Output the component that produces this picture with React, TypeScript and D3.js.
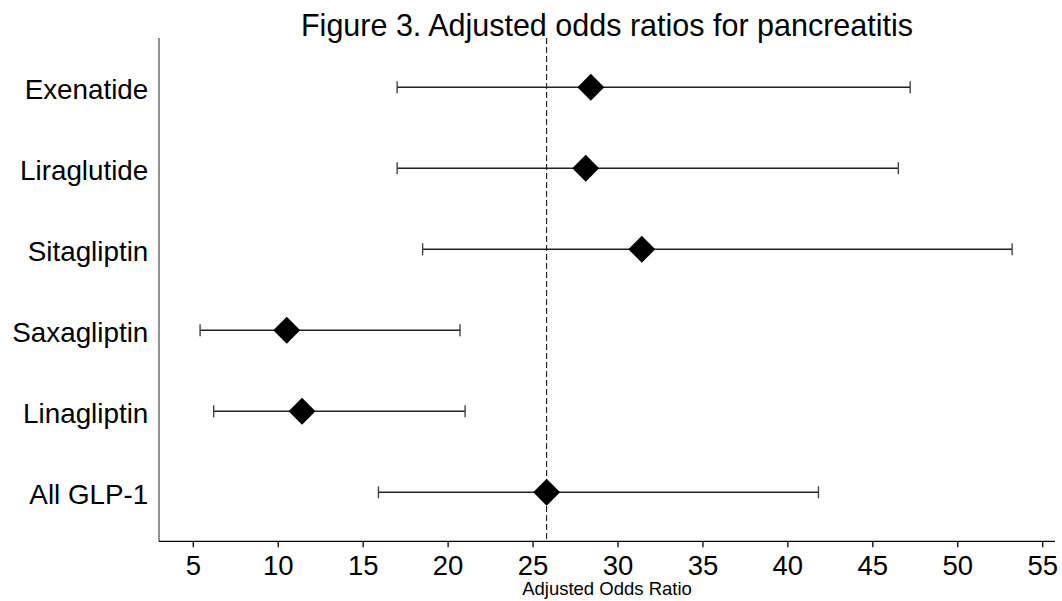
import React from "react";
import * as d3 from "d3";

const categories = ["Exenatide", "Liraglutide", "Sitagliptin", "Saxagliptin", "Linagliptin", "All GLP-1"];
const oddsRatios = [28.4, 28.1, 31.4, 10.5, 11.4, 25.8];
const lowerCI = [17.0, 17.0, 18.5, 5.4, 6.2, 15.9];
const upperCI = [47.2, 46.5, 53.2, 20.7, 21.0, 41.8];
const referenceValue = 25.8;
const xTicks = [5, 10, 15, 20, 25, 30, 35, 40, 45, 50, 55];
const titleText = "Figure 3. Adjusted odds ratios for pancreatitis";
const xAxisLabel = "Adjusted Odds Ratio";

const W = 1062;
const H = 601;
const plotLeft = 159;
const plotRight = 1055;
const plotTop = 38;
const plotBottom = 541.3;

export default function App() {
  const x = d3.scaleLinear().domain([5, 55]).range([193.3, 1042.7]);
  const y = d3.scalePoint<string>().domain(categories).range([87.3, 492.3]);
  const font = "Arial, 'Liberation Sans', Helvetica, sans-serif";
  const diamond = d3.symbol().type(d3.symbolSquare).size(19 * 19)();
  const capH = 6;

  return (
    <svg
      width={W}
      height={H}
      style={{ position: "absolute", left: 0, top: 0, display: "block", background: "#fff" }}
      fontFamily={font}
    >
      <rect x={0} y={0} width={W} height={H} fill="#fff" />
      {/* title */}
      <text x={607} y={36} textAnchor="middle" fontSize={30.5} fill="#000">
        {titleText}
      </text>
      {/* y axis */}
      <line x1={plotLeft} x2={plotLeft} y1={plotTop} y2={plotBottom} stroke="#555" strokeWidth={1.3} />
      {/* x axis */}
      <line x1={plotLeft} x2={plotRight} y1={plotBottom} y2={plotBottom} stroke="#000" strokeWidth={1.3} />
      {xTicks.map((t) => (
        <g key={t}>
          <line x1={x(t)} x2={x(t)} y1={plotBottom} y2={plotBottom + 6} stroke="#000" strokeWidth={1.3} />
          <text x={x(t)} y={575} textAnchor="middle" fontSize={27.5} fill="#000">
            {t}
          </text>
        </g>
      ))}
      <text x={(plotLeft + plotRight) / 2} y={595} textAnchor="middle" fontSize={18.5} fill="#000">
        {xAxisLabel}
      </text>
      {/* reference dashed line */}
      <line
        x1={x(referenceValue)}
        x2={x(referenceValue)}
        y1={plotTop}
        y2={plotBottom}
        stroke="#000"
        strokeWidth={1}
        strokeDasharray="6,3"
      />
      {/* category labels */}
      {categories.map((c) => (
        <text key={c} x={148.3} y={(y(c) as number) + 12} textAnchor="end" fontSize={27.8} fill="#000">
          {c}
        </text>
      ))}
      {/* error bars */}
      {categories.map((c, i) => {
        const cy = y(c) as number;
        return (
          <g key={c}>
            <line x1={x(lowerCI[i])} x2={x(upperCI[i])} y1={cy} y2={cy} stroke="#222" strokeWidth={1.4} />
            <line x1={x(lowerCI[i])} x2={x(lowerCI[i])} y1={cy - capH} y2={cy + capH} stroke="#444" strokeWidth={1.4} />
            <line x1={x(upperCI[i])} x2={x(upperCI[i])} y1={cy - capH} y2={cy + capH} stroke="#444" strokeWidth={1.4} />
            <path d={diamond as string} transform={`translate(${x(oddsRatios[i])},${cy}) rotate(45)`} fill="#000" />
          </g>
        );
      })}
    </svg>
  );
}
